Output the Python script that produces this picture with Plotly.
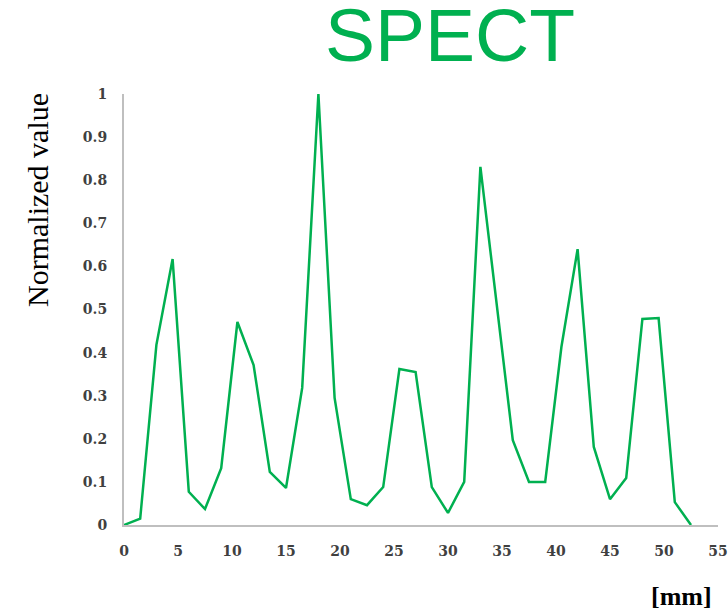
import plotly.graph_objects as go

x_mm = [0, 1.5, 3, 4.5, 6, 7.5, 9, 10.5, 12, 13.5, 15, 16.5, 18, 19.5, 21, 22.5,
        24, 25.5, 27, 28.5, 30, 31.5, 33, 34.5, 36, 37.5, 39, 40.5, 42, 43.5, 45,
        46.5, 48, 49.5, 51, 52.5]
values = [0.0, 0.015, 0.418, 0.617, 0.077, 0.037, 0.132, 0.471, 0.371, 0.123,
          0.086, 0.318, 1.0, 0.295, 0.06, 0.046, 0.088, 0.362, 0.355, 0.088,
          0.028, 0.10, 0.831, 0.515, 0.197, 0.10, 0.10, 0.413, 0.64, 0.181,
          0.06, 0.109, 0.478, 0.48, 0.053, 0.0]
x_ticks = [0, 5, 10, 15, 20, 25, 30, 35, 40, 45, 50, 55]
y_ticks = [0, 0.1, 0.2, 0.3, 0.4, 0.5, 0.6, 0.7, 0.8, 0.9, 1]
y_tick_text = ["0", "0.1", "0.2", "0.3", "0.4", "0.5", "0.6", "0.7", "0.8", "0.9", "1"]

GREEN = "#00b050"
TICK_FONT = dict(family="DejaVu Serif", size=14, color="#404040", weight="bold")

fig = go.Figure()
fig.add_trace(go.Scatter(x=x_mm, y=values, mode="lines",
                         line=dict(color=GREEN, width=2.5), showlegend=False))

fig.update_layout(
    width=728, height=614,
    margin=dict(l=124, r=10, t=94, b=89, autoexpand=False),
    paper_bgcolor="white", plot_bgcolor="white",
    xaxis=dict(range=[0, 55], tickvals=x_ticks, showgrid=False, zeroline=False,
               showline=True, linecolor="#bfbfbf", linewidth=2, ticks="",
               tickfont=TICK_FONT, ticklabelstandoff=12, automargin=False),
    yaxis=dict(range=[0, 1], tickvals=y_ticks, ticktext=y_tick_text,
               showgrid=False, zeroline=False, showline=True,
               linecolor="#bfbfbf", linewidth=2, ticks="",
               tickfont=TICK_FONT, ticklabelstandoff=12, automargin=False),
    annotations=[
        dict(text="SPECT", xref="paper", yref="paper", x=0.549, y=1.137,
             xanchor="center", yanchor="middle", showarrow=False,
             font=dict(family="Liberation Sans", size=75, color=GREEN)),
        dict(text="Normalized value", xref="paper", yref="paper", x=-0.1465,
             y=0.754, xanchor="center", yanchor="middle", textangle=-90,
             showarrow=False,
             font=dict(family="Liberation Serif", size=30, color="black")),
        dict(text="<b>[mm]</b>", xref="paper", yref="paper", x=0.939, y=-0.167,
             xanchor="center", yanchor="middle", showarrow=False,
             font=dict(family="Liberation Serif", size=26, color="black")),
    ],
)

fig.write_html("out.html", config={"displayModeBar": False},
               post_script="document.body.style.margin='0';"
                           "document.body.style.padding='0';")
